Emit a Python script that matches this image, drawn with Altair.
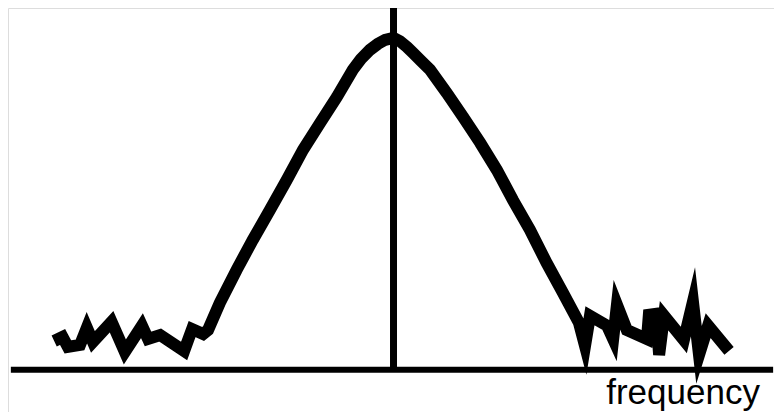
import altair as alt
import pandas as pd

# Spectrum trace (frequency offset, relative amplitude)
freq = [-8.93, -8.71, -8.57, -8.25, -8.07, -7.91, -7.42, -7.07, -6.62, -6.46,
        -6.14, -5.51, -5.30, -5.01, -4.88, -4.57, -4.13, -3.70, -3.25, -2.81,
        -2.38, -1.93, -1.49, -1.07, -0.86, -0.62, -0.41, -0.22, 0.00, 0.17,
        0.36, 0.51, 0.72, 0.96,
        1.40, 1.83, 2.28, 2.72, 3.14, 3.59, 4.03, 4.46, 4.88, 5.04,
        5.17, 5.62, 5.78, 5.88, 6.14, 6.67, 6.72, 6.91, 6.99, 7.12,
        7.64, 7.88, 8.04, 8.28, 8.83]
amp = [0.087, 0.099, 0.069, 0.075, 0.127, 0.084, 0.145, 0.054, 0.133, 0.093,
       0.105, 0.057, 0.123, 0.108, 0.120, 0.202, 0.301, 0.392, 0.482, 0.572,
       0.663, 0.744, 0.822, 0.904, 0.936, 0.964, 0.982, 0.994, 1.000, 0.990,
       0.972, 0.955, 0.931, 0.904,
       0.834, 0.762, 0.684, 0.602, 0.512, 0.422, 0.322, 0.232, 0.142, 0.072,
       0.163, 0.133, 0.093, 0.196, 0.120, 0.093, 0.166, 0.169, 0.045, 0.163,
       0.090, 0.205, 0.045, 0.133, 0.057]

center_freq = [0.0]
center_top = [1.09]
axis_start = [-10.07]
axis_end = [9.99]
label_text = ["frequency"]
label_freq = [7.62]
label_amp = [-0.102]

X_DOMAIN = [-10.145, 10.013]
Y_DOMAIN = [-0.127, 1.090]

trace = pd.DataFrame({"f": freq, "a": amp, "i": list(range(len(freq)))})
center = pd.DataFrame({"f": center_freq, "a0": [0.0], "a1": center_top})
axis_df = pd.DataFrame({"f0": axis_start, "f1": axis_end, "a": [0.0]})
label_df = pd.DataFrame({"t": label_text, "f": label_freq, "a": label_amp})

xs = alt.Scale(domain=X_DOMAIN, nice=False, zero=False)
ys = alt.Scale(domain=Y_DOMAIN, nice=False, zero=False)

line = alt.Chart(trace).mark_line(
    color="black", strokeWidth=12, strokeJoin="miter", strokeMiterLimit=10, strokeCap="butt"
).encode(
    x=alt.X("f:Q", scale=xs, axis=None),
    y=alt.Y("a:Q", scale=ys, axis=None),
    order="i:Q",
)

vrule = alt.Chart(center).mark_rule(color="black", strokeWidth=7).encode(
    x=alt.X("f:Q", scale=xs, axis=None),
    y=alt.Y("a0:Q", scale=ys, axis=None),
    y2="a1:Q",
)

hrule = alt.Chart(axis_df).mark_rule(color="black", strokeWidth=6).encode(
    x=alt.X("f0:Q", scale=xs, axis=None),
    x2="f1:Q",
    y=alt.Y("a:Q", scale=ys, axis=None),
)

label = alt.Chart(label_df).mark_text(
    font="Liberation Sans", fontSize=35, color="black", align="center", baseline="alphabetic"
).encode(
    x=alt.X("f:Q", scale=xs, axis=None),
    y=alt.Y("a:Q", scale=ys, axis=None),
    text="t:N",
)

chart = alt.layer(hrule, vrule, line, label).properties(
    width=766, height=404, autosize=alt.AutoSizeParams(type="none"), padding=0
).configure_view(stroke=None).configure(background="white")

chart.save("out.html", embed_options={"renderer": "svg", "actions": False})
